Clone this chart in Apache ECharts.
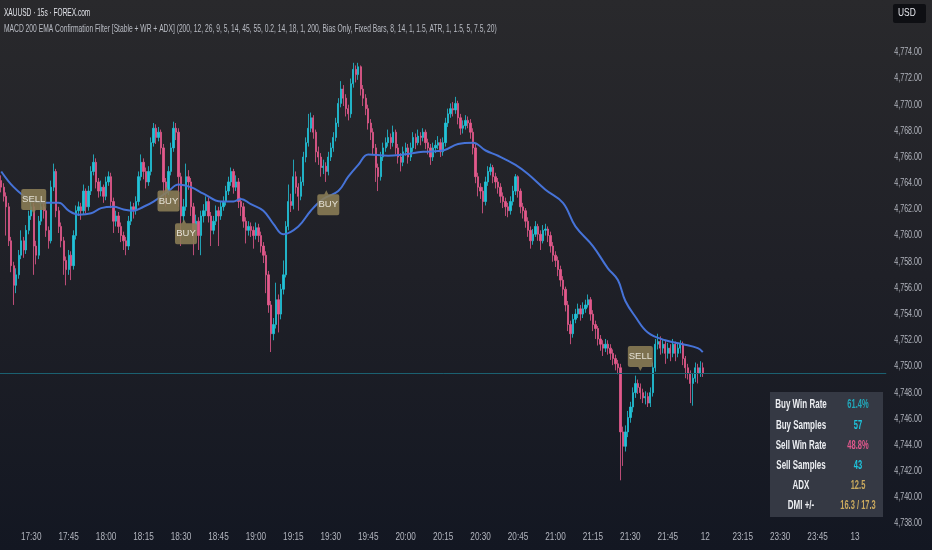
<!DOCTYPE html>
<html><head><meta charset="utf-8">
<script src="https://cdn.jsdelivr.net/npm/echarts@6/dist/echarts.min.js"></script>
<style>
html,body{margin:0;padding:0;width:932px;height:550px;overflow:hidden;
background:linear-gradient(180deg,#29292c 0%,#1f2027 50%,#131722 100%);}
#c{width:932px;height:550px;}
</style></head><body><div id="c"></div>
<script>
// ---- data ----
const tickLabels = ['17:30','17:45','18:00','18:15','18:30','18:45','19:00','19:15','19:30','19:45','20:00','20:15','20:30','20:45','21:00','21:15','21:30','21:45','12','23:15','23:30','23:45','13'];
const priceTicks = [4738,4740,4742,4744,4746,4748,4750,4752,4754,4756,4758,4760,4762,4764,4766,4768,4770,4772,4774];
// 1-minute OHLC [open, close, low, high]
const candles = [
[4764.2,4763.7,4763.3,4764.6],[4763.7,4763.0,4762.6,4764.0],[4763.0,4762.2,4760.0,4763.3],[4762.2,4759.6,4759.2,4762.5],[4759.6,4757.7,4757.2,4759.9],
[4757.7,4756.2,4754.7,4758.0],[4756.2,4757.0,4755.6,4757.5],[4757.0,4758.5,4756.7,4758.9],[4758.5,4759.6,4758.2,4760.4],[4759.6,4758.9,4758.3,4759.9],
[4758.9,4760.4,4758.6,4760.8],[4760.4,4761.5,4760.1,4761.9],[4761.5,4762.2,4761.2,4762.6],[4762.2,4759.2,4757.0,4762.5],[4759.2,4758.5,4757.8,4759.6],
[4758.5,4761.1,4758.2,4761.5],[4761.1,4762.2,4760.8,4762.6],[4762.2,4761.9,4761.3,4762.5],[4761.9,4760.4,4759.9,4762.1],[4760.4,4759.6,4759.0,4760.7],
[4759.6,4763.7,4759.4,4764.2],[4763.7,4764.9,4763.4,4765.5],[4764.9,4761.9,4761.4,4765.1],[4761.9,4760.7,4760.2,4762.2],[4760.7,4759.6,4759.1,4761.0],
[4759.6,4758.1,4757.0,4759.9],[4758.1,4757.4,4756.2,4758.4],[4757.4,4758.5,4757.0,4758.9],[4758.5,4757.7,4756.6,4758.8],[4757.7,4760.0,4757.4,4760.4],
[4760.0,4761.9,4759.7,4762.3],[4761.9,4762.2,4761.5,4762.6],[4762.2,4761.9,4761.2,4762.5],[4761.9,4763.4,4761.6,4763.9],[4763.4,4762.2,4761.7,4763.6],
[4762.2,4763.4,4761.9,4763.8],[4763.4,4764.9,4763.1,4765.3],[4764.9,4765.6,4764.6,4766.2],[4765.6,4764.1,4763.6,4765.9],[4764.1,4763.4,4762.9,4764.4],
[4763.4,4763.7,4763.0,4764.2],[4763.7,4763.0,4762.5,4763.9],[4763.0,4764.1,4762.7,4764.5],[4764.1,4764.5,4763.8,4764.9],[4764.5,4762.6,4762.1,4764.8],
[4762.6,4761.1,4760.2,4762.9],[4761.1,4761.5,4760.7,4761.9],[4761.5,4760.7,4760.2,4761.8],[4760.7,4760.0,4759.5,4761.0],[4760.0,4759.6,4758.9,4760.3],
[4759.6,4759.2,4758.5,4759.9],[4759.2,4761.1,4758.9,4761.5],[4761.1,4762.2,4760.8,4762.6],[4762.2,4761.9,4761.3,4762.5],[4761.9,4762.6,4761.6,4763.0],
[4762.6,4764.5,4762.3,4764.9],[4764.5,4765.6,4764.2,4766.2],[4765.6,4764.9,4764.3,4765.9],[4764.9,4764.1,4763.6,4765.2],[4764.1,4764.9,4763.8,4765.3],
[4764.9,4767.1,4764.6,4767.5],[4767.1,4768.2,4766.8,4768.6],[4768.2,4767.5,4767.0,4768.5],[4767.5,4767.9,4767.2,4768.3],[4767.9,4766.7,4766.2,4768.1],
[4766.7,4764.1,4763.0,4767.0],[4764.1,4763.4,4762.2,4764.4],[4763.4,4764.9,4763.1,4765.3],[4764.9,4766.7,4764.6,4767.1],[4766.7,4768.2,4766.4,4768.7],
[4768.2,4767.9,4767.3,4768.6],[4767.9,4764.5,4762.2,4768.2],[4764.5,4761.5,4759.2,4764.8],[4761.5,4762.2,4761.0,4762.8],[4762.2,4764.5,4761.9,4765.5],
[4764.5,4764.1,4763.5,4765.0],[4764.1,4762.2,4761.5,4764.4],[4762.2,4760.4,4758.5,4762.5],[4760.4,4761.1,4760.0,4761.6],[4761.1,4760.0,4758.9,4761.4],
[4760.0,4761.5,4758.5,4761.9],[4761.5,4761.9,4761.0,4762.4],[4761.9,4762.6,4761.5,4763.0],[4762.6,4761.5,4761.0,4762.9],[4761.5,4760.4,4759.2,4761.8],
[4760.4,4761.1,4760.1,4761.5],[4761.1,4761.9,4760.8,4762.3],[4761.9,4761.5,4759.2,4762.2],[4761.5,4762.2,4761.2,4762.6],[4762.2,4762.6,4761.9,4763.0],
[4762.6,4763.4,4762.3,4763.8],[4763.4,4764.1,4763.1,4764.5],[4764.1,4764.9,4763.8,4765.2],[4764.9,4763.7,4763.2,4765.1],[4763.7,4764.1,4763.4,4764.6],
[4764.1,4762.6,4762.1,4764.4],[4762.6,4762.2,4761.5,4762.9],[4762.2,4761.1,4760.6,4762.5],[4761.1,4760.4,4759.4,4761.4],[4760.4,4760.7,4760.0,4761.1],
[4760.7,4760.4,4759.9,4761.0],[4760.4,4760.0,4759.0,4760.7],[4760.0,4760.6,4759.7,4761.0],[4760.6,4760.0,4759.5,4760.9],[4760.0,4759.2,4758.7,4760.3],
[4759.2,4758.5,4757.9,4759.5],[4758.5,4757.0,4755.6,4758.8],[4757.0,4754.7,4754.1,4757.3],[4754.7,4752.5,4751.1,4755.0],[4752.5,4753.2,4752.0,4753.7],
[4753.2,4755.1,4752.9,4756.4],[4755.1,4754.0,4752.6,4755.5],[4754.0,4755.9,4753.6,4756.3],[4755.9,4757.0,4755.5,4758.1],[4757.0,4760.7,4756.8,4761.1],
[4760.7,4762.6,4760.4,4763.9],[4762.6,4762.3,4761.8,4763.2],[4762.3,4764.5,4762.0,4765.8],[4764.5,4763.7,4763.2,4764.9],[4763.7,4763.0,4761.9,4764.0],
[4763.0,4764.1,4762.7,4764.5],[4764.1,4766.0,4763.8,4766.4],[4766.0,4767.1,4765.6,4767.5],[4767.1,4768.2,4766.8,4769.3],[4768.2,4769.0,4767.9,4769.4],
[4769.0,4767.9,4767.4,4769.2],[4767.9,4766.4,4765.6,4768.1],[4766.4,4766.0,4765.4,4766.8],[4766.0,4765.2,4764.5,4766.3],[4765.2,4765.3,4764.7,4765.8],
[4765.3,4764.9,4764.1,4765.6],[4764.9,4766.0,4764.6,4766.4],[4766.0,4766.7,4765.7,4767.1],[4766.7,4767.5,4766.4,4767.9],[4767.5,4768.6,4767.2,4769.0],
[4768.6,4770.1,4768.3,4770.5],[4770.1,4771.2,4769.8,4771.8],[4771.2,4770.5,4769.9,4771.5],[4770.5,4769.7,4769.1,4770.8],[4769.7,4769.3,4768.8,4770.0],
[4769.3,4771.6,4769.0,4772.0],[4771.6,4772.7,4771.3,4773.2],[4772.7,4772.3,4771.7,4773.0],[4772.3,4772.9,4771.9,4773.2],[4772.9,4771.2,4770.7,4773.0],
[4771.2,4770.5,4769.9,4771.5],[4770.5,4769.7,4769.2,4770.8],[4769.7,4768.6,4768.1,4770.0],[4768.6,4767.9,4767.3,4768.9],[4767.9,4766.7,4766.2,4768.2],
[4766.7,4765.2,4764.1,4767.0],[4765.2,4764.5,4763.4,4765.5],[4764.5,4766.0,4764.2,4766.4],[4766.0,4766.7,4765.7,4767.1],[4766.7,4767.1,4766.4,4767.5],
[4767.1,4767.5,4766.8,4768.1],[4767.5,4767.1,4766.6,4767.8],[4767.1,4767.9,4766.8,4768.4],[4767.9,4766.7,4766.2,4768.1],[4766.7,4766.0,4765.5,4767.0],
[4766.0,4765.6,4764.9,4766.3],[4765.6,4766.4,4765.3,4766.8],[4766.4,4766.7,4766.1,4767.1],[4766.7,4766.0,4765.5,4767.0],[4766.0,4766.7,4765.7,4767.1],
[4766.7,4767.5,4766.4,4767.9],[4767.5,4767.1,4766.6,4767.8],[4767.1,4767.6,4766.9,4768.1],[4767.6,4767.5,4766.9,4767.9],[4767.5,4767.9,4767.2,4768.2],
[4767.9,4767.1,4766.6,4768.1],[4767.1,4766.7,4766.2,4767.4],[4766.7,4766.0,4765.4,4767.0],[4766.0,4766.7,4765.7,4767.1],[4766.7,4766.9,4766.3,4767.3],
[4766.9,4767.1,4766.6,4767.6],[4767.1,4766.4,4766.0,4767.4],[4766.4,4767.1,4766.1,4767.5],[4767.1,4768.6,4766.8,4769.0],[4768.6,4769.3,4768.3,4769.7],
[4769.3,4769.7,4769.0,4770.1],[4769.7,4769.6,4769.1,4770.2],[4769.6,4770.1,4769.3,4770.6],[4770.1,4769.0,4768.5,4770.3],[4769.0,4768.2,4767.7,4769.3],
[4768.2,4768.4,4767.8,4768.8],[4768.4,4768.8,4768.1,4769.2],[4768.8,4768.6,4768.2,4769.1],[4768.6,4767.9,4767.4,4768.9],[4767.9,4766.7,4766.2,4768.2],
[4766.7,4764.5,4764.0,4767.0],[4764.5,4763.7,4763.0,4764.8],[4763.7,4763.4,4762.8,4764.0],[4763.4,4762.6,4761.7,4763.7],[4762.6,4764.1,4762.3,4764.5],
[4764.1,4764.9,4763.8,4765.3],[4764.9,4765.2,4764.6,4765.5],[4765.2,4764.5,4764.0,4765.4],[4764.5,4764.1,4763.6,4764.8],[4764.1,4763.7,4763.2,4764.4],
[4763.7,4763.0,4762.5,4764.0],[4763.0,4762.6,4762.1,4763.3],[4762.6,4762.2,4761.5,4762.9],[4762.2,4761.9,4761.4,4762.5],[4761.9,4762.6,4761.6,4763.0],
[4762.6,4763.4,4762.3,4763.8],[4763.4,4764.5,4763.1,4764.7],[4764.5,4763.4,4762.9,4764.6],[4763.4,4762.2,4761.7,4763.6],[4762.2,4761.9,4761.3,4762.5],
[4761.9,4761.1,4760.6,4762.1],[4761.1,4760.4,4759.9,4761.4],[4760.4,4759.6,4759.0,4760.7],[4759.6,4760.1,4759.3,4760.5],[4760.1,4760.7,4759.9,4761.1],
[4760.7,4760.1,4759.6,4760.9],[4760.1,4759.6,4758.9,4760.4],[4759.6,4760.4,4759.4,4760.8],[4760.4,4760.5,4760.0,4760.9],[4760.5,4760.0,4759.5,4760.7],
[4760.0,4759.2,4758.7,4760.3],[4759.2,4758.5,4758.0,4759.5],[4758.5,4758.1,4757.6,4758.8],[4758.1,4757.4,4756.9,4758.4],[4757.4,4756.6,4756.1,4757.7],
[4756.6,4755.9,4755.4,4756.9],[4755.9,4754.7,4754.2,4756.1],[4754.7,4753.2,4752.7,4755.0],[4753.2,4752.5,4751.7,4753.5],[4752.5,4753.6,4752.2,4754.0],
[4753.6,4754.0,4753.3,4754.4],[4754.0,4754.4,4753.7,4754.8],[4754.4,4754.0,4753.5,4754.7],[4754.0,4754.4,4753.7,4754.9],[4754.4,4754.7,4754.1,4755.1],
[4754.7,4755.1,4754.5,4755.5],[4755.1,4754.0,4753.5,4755.3],[4754.0,4753.2,4752.7,4754.3],[4753.2,4752.9,4752.1,4753.5],[4752.9,4752.1,4751.6,4753.1],
[4752.1,4751.7,4751.2,4752.4],[4751.7,4751.4,4750.8,4752.0],[4751.4,4751.7,4751.1,4752.1],[4751.7,4751.4,4750.9,4752.0],[4751.4,4751.0,4750.5,4751.7],
[4751.0,4750.6,4750.1,4751.3],[4750.6,4750.2,4749.7,4750.9],[4750.2,4749.9,4749.4,4750.5],[4749.9,4745.0,4741.3,4750.2],[4745.0,4743.9,4742.4,4745.4],
[4743.9,4745.0,4743.5,4745.5],[4745.0,4746.1,4744.6,4746.6],[4746.1,4746.9,4745.7,4747.3],[4746.9,4748.0,4746.5,4748.4],[4748.0,4748.7,4747.6,4749.3],
[4748.7,4748.4,4747.9,4749.0],[4748.4,4748.0,4747.5,4748.7],[4748.0,4747.6,4747.2,4748.3],[4747.6,4747.7,4747.1,4748.1],[4747.7,4747.2,4746.9,4748.0],
[4747.2,4748.0,4746.9,4748.4],[4748.0,4749.9,4747.7,4750.3],[4749.9,4751.7,4749.6,4752.1],[4751.7,4751.9,4751.3,4752.5],[4751.9,4751.4,4750.9,4752.3],
[4751.4,4751.7,4751.0,4752.1],[4751.7,4751.0,4750.2,4752.0],[4751.0,4751.4,4750.6,4751.8],[4751.4,4751.0,4750.4,4751.7],[4751.0,4751.7,4750.7,4752.1],
[4751.7,4751.0,4750.4,4751.9],[4751.0,4751.4,4750.7,4751.8],[4751.4,4751.7,4751.0,4752.0],[4751.7,4750.6,4750.1,4751.9],[4750.6,4749.9,4749.1,4750.8],
[4749.9,4749.5,4749.0,4750.2],[4749.5,4748.7,4747.2,4749.7],[4748.7,4749.1,4747.0,4749.5],[4749.1,4749.9,4748.8,4750.3],[4749.9,4749.5,4748.7,4750.2],
[4749.5,4749.9,4749.2,4750.4],[4749.9,4749.5,4749.2,4750.3]
];
// EMA 200 readings [bar index, value]
const ema200 = [
[0,4764.9],[5,4763.7],[11,4762.8],[17,4762.5],[23,4762.5],[27,4761.9],[31,4761.6],[36,4761.7],[40,4762.1],[45,4762.2],
[49,4762.0],[53,4761.9],[57,4762.2],[61,4762.6],[67,4763.4],[71,4763.9],[76,4763.7],[81,4763.2],[88,4762.6],[93,4762.6],
[96,4762.8],[100,4762.4],[105,4761.9],[109,4760.9],[113,4760.1],[119,4760.7],[124,4761.9],[129,4762.8],[135,4763.4],[139,4764.5],
[143,4765.4],[147,4766.2],[155,4766.1],[161,4766.2],[169,4766.4],[177,4766.5],[183,4767.0],[189,4767.1],[194,4766.5],[199,4766.1],
[206,4765.4],[211,4764.7],[218,4763.5],[225,4762.5],[230,4760.7],[237,4759.2],[243,4757.5],[247,4756.6],[250,4755.0],[254,4753.8],
[259,4752.6],[266,4752.0],[273,4751.7],[279,4751.4],[281,4751.1]
];
const buySignals = [[67,4762.8],[74,4760.3],[131,4762.5]];
const sellSignals = [[13,4762.6],[256,4750.6]];
const statLabels = ['Buy Win Rate','Buy Samples','Sell Win Rate','Sell Samples','ADX','DMI +/-'];
const statValues = ['61.4%','57','48.8%','43','12.5','16.3 / 17.3'];
const statColors = ['#22a9bb','#1ec6de','#e0588c','#1ec6de','#c9a95e','#c9a95e'];
const headerTitle = 'XAUUSD · 15s · FOREX.com';
const headerStudy = 'MACD 200 EMA Confirmation Filter [Stable + WR + ADX] (200, 12, 26, 9, 5, 14, 45, 55, 0.2, 14, 18, 1, 200, Bias Only, Fixed Bars, 8, 14, 1, 1.5, ATR, 1, 1.5, 5, 7.5, 20)';

// ---- axis categories (1 minute each; session break after 21:59) ----
const N_CAT = 355, FIRST_TICK = 12, TICK_STEP = 15;
const categories = [];
for (let i = 0; i < N_CAT; i++) {
  let m = i < 282 ? 17*60+18+i : 23*60+(i-282);
  m %= 1440;
  categories.push(String(Math.floor(m/60)).padStart(2,'0')+':'+String(m%60).padStart(2,'0'));
}
const lastClose = candles[candles.length-1][1];
const FONT = "'Liberation Sans',Arial,sans-serif";
const UP = '#22c3d8', DOWN = '#e3598c';
const buyPath = 'path://M2,4 L7,4 L9,0 L11,4 L20,4 Q22,4 22,6 L22,23 Q22,25 20,25 L2,25 Q0,25 0,23 L0,6 Q0,4 2,4 Z';
const sellPath = 'path://M2,0 L22,0 Q24,0 24,2 L24,19 Q24,21 22,21 L14,21 L12,25 L10,21 L2,21 Q0,21 0,19 L0,2 Q0,0 2,0 Z';

const chart = echarts.init(document.getElementById('c'), null, {renderer:'canvas'});
function txt(str, x, y, fill, font, sx, align) {
  return {type:'text', x:x, y:y, scaleX:sx, z:10,
    style:{text:str, fill:fill, font:font, textAlign:align, align:align, textVerticalAlign:'middle', verticalAlign:'middle'}};
}
const graphics = [
  txt(headerTitle, 4, 13, '#e0e2e8', '11.5px '+FONT, 0.57, 'left'),
  txt(headerStudy, 4, 29, '#b9bcc4', '11px '+FONT, 0.61, 'left'),
  {type:'rect', shape:{x:893,y:4,width:33,height:19,r:2}, style:{fill:'#0e0f13'}, z:10},
  txt('USD', 898, 13.5, '#e6e8ee', '10.5px '+FONT, 0.8, 'left'),
  {type:'rect', shape:{x:770,y:392,width:113,height:125}, style:{fill:'#353944'}, z:9}
];
statLabels.forEach((lab, k) => {
  const y = 405 + k*20.2;
  graphics.push(txt(lab, 801, y, '#eceef2', 'bold 12.5px '+FONT, 0.64, 'center'));
  graphics.push(txt(statValues[k], 858, y, statColors[k], 'bold 12.5px '+FONT, 0.6, 'center'));
});

chart.setOption({
  backgroundColor:'transparent',
  animation:false,
  grid:{left:-1.25, right:45.75, top:-10.5, bottom:26.5, containLabel:false},
  xAxis:{type:'category', data:categories, boundaryGap:true,
    axisLine:{show:false}, axisTick:{show:false}, splitLine:{show:false}, axisLabel:{show:false}},
  yAxis:{type:'value', position:'right', min:4738, max:4778, interval:2, scale:true,
    axisLine:{show:false}, axisTick:{show:false}, splitLine:{show:false}, axisLabel:{show:false}},
  graphic:graphics,
  series:[
    {type:'candlestick', data:candles, barWidth:1.8,
      itemStyle:{color:UP, color0:DOWN, borderColor:UP, borderColor0:DOWN, borderWidth:0.8},
      markLine:{silent:true, symbol:'none', label:{show:false},
        lineStyle:{color:'#1b6070', width:1, type:'solid'}, data:[{yAxis:lastClose}]}},
    {type:'line', data:ema200, smooth:0.4, showSymbol:false, z:3,
      lineStyle:{color:'#4673d8', width:2}},
    {type:'scatter', data:buySignals, symbol:buyPath, symbolSize:[22,25], z:5,
      itemStyle:{color:'#8b7d55', opacity:0.88},
      label:{show:true, position:'inside', offset:[0,2], formatter:'BUY', color:'#f4f1e8', fontFamily:FONT, fontSize:9.5}},
    {type:'scatter', data:sellSignals, symbol:sellPath, symbolSize:[25,25], z:5,
      itemStyle:{color:'#8b7d55', opacity:0.88},
      label:{show:true, position:'inside', offset:[0,-2], formatter:'SELL', color:'#f4f1e8', fontFamily:FONT, fontSize:9.5}}
  ]
});

// axis tick labels, positioned through the chart's own scales (condensed to match the narrow UI font)
const axisText = [];
priceTicks.forEach(v => {
  const py = chart.convertToPixel({yAxisIndex:0}, v);
  axisText.push(txt(v.toLocaleString('en-US',{minimumFractionDigits:2, maximumFractionDigits:2}), 922, py, '#b2b5be', '10.5px '+FONT, 0.68, 'right'));
});
tickLabels.forEach((lab, k) => {
  const px = chart.convertToPixel({xAxisIndex:0}, FIRST_TICK + k*TICK_STEP);
  axisText.push(txt(lab, px, 537, '#b2b5be', '10.5px '+FONT, 0.78, 'center'));
});
chart.setOption({graphic: graphics.concat(axisText)});
</script></body></html>
